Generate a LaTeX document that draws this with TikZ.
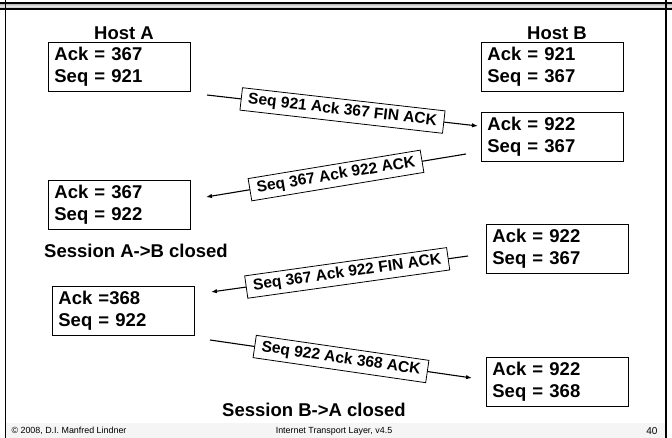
\documentclass[tikz,border=0pt]{standalone}
\usepackage{fontspec}
\setmainfont{Liberation Sans}
\usetikzlibrary{arrows.meta}
\tikzset{
  bigtxt/.style={font=\bfseries\fontsize{18.5}{22}\selectfont},
  hostbox/.style={draw, line width=0.8pt, anchor=north west, text width=130pt,
    inner xsep=6pt, inner ysep=2pt, minimum height=49pt, align=left,
    font=\bfseries\fontsize{18.5}{21.5}\selectfont},
  msg/.style={line width=1.1pt, -{Latex[length=6pt,width=4.5pt]}},
  lbl/.style={draw, line width=0.8pt, fill=white, sloped, inner xsep=7pt, inner ysep=4pt,
    font=\bfseries\fontsize{15.6}{17}\selectfont},
  foot/.style={font=\fontsize{8.9}{10}\selectfont}
}
\begin{document}
\begin{tikzpicture}[x=1pt,y=-1pt]
\useasboundingbox (0,0) rectangle (672,438);
% frame
\fill[white] (0,0) rectangle (672,438);
\fill[gray!8] (6,423) rectangle (666,438);
\shade[top color=gray!70, bottom color=gray!70, middle color=gray!20] (0,3) rectangle (672,9);
\draw[line width=1.2pt] (0,3) -- (672,3);
\draw[line width=1.2pt] (0,9) -- (672,9);
\draw[line width=1.5pt] (5.5,0) -- (5.5,438);
\draw[line width=1.8pt] (666,0) -- (666,438);

% hosts
\node[bigtxt] (ha) at (124,33) {Host A};
\node[bigtxt] (hb) at (557,33) {Host B};

\node[hostbox] (a1) at (48,42) {Ack = 367\\Seq = 921};
\node[hostbox] (b1) at (481,42) {Ack = 921\\Seq = 367};
\node[hostbox] (b2) at (481,112) {Ack = 922\\Seq = 367};
\node[hostbox] (a2) at (48,180) {Ack = 367\\Seq = 922};
\node[bigtxt] (sab) at (136,251) {Session A->B closed};
\node[hostbox] (b3) at (486,224) {Ack = 922\\Seq = 367};
\node[hostbox] (a3) at (52,286) {Ack =368\\Seq = 922};
\node[hostbox] (b4) at (486,357) {Ack = 922\\Seq = 368};
\node[bigtxt] (sba) at (314,410) {Session B->A closed};

% messages
\coordinate (m1s) at (207,95);
\coordinate (m1e) at (478,126);
\coordinate (m2s) at (466,154);
\coordinate (m2e) at (206,197);
\coordinate (m3s) at (468,256);
\coordinate (m3e) at (211,292);
\coordinate (m4s) at (210,340);
\coordinate (m4e) at (472,378);
\draw[msg] (m1s) -- node[lbl] (l1) {Seq 921 Ack 367 FIN ACK} (m1e);
\draw[msg] (m2s) -- node[lbl] (l2) {Seq 367 Ack 922 ACK} (m2e);
\draw[msg] (m3s) -- node[lbl, pos=0.47] (l3) {Seq 367 Ack 922 FIN ACK} (m3e);
\draw[msg] (m4s) -- node[lbl, pos=0.5] (l4) {Seq 922 Ack 368 ACK} (m4e);

% footer
\node[foot, anchor=west] (f1) at (8,431) {\textcopyright{} 2008, D.I. Manfred Lindner};
\node[foot] (f2) at (334,431) {Internet Transport Layer, v4.5};
\node[foot, anchor=east, font=\fontsize{10}{12}\selectfont] (f3) at (661,431) {40};
\end{tikzpicture}
\end{document}
